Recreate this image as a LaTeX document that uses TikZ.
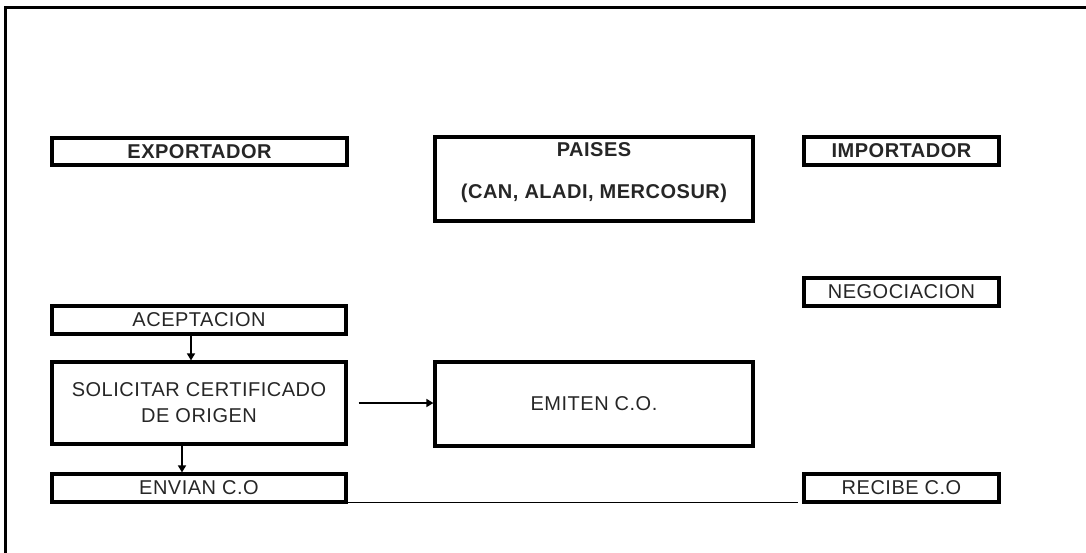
\documentclass[tikz,border=0pt]{standalone}
\usepackage{fontspec}
\setmainfont[LetterSpace=2.5]{Liberation Sans}
\usetikzlibrary{arrows.meta}
\begin{document}
\begin{tikzpicture}[x=1pt,y=-1pt,
  box/.style={draw=black, line width=3.2pt, rectangle, inner sep=0pt, minimum height=27pt,
    font=\fontsize{20}{24}\selectfont, text=black!85, align=center},
  bbox/.style={box, font=\fontsize{20}{24}\selectfont\bfseries},
  btxt/.style={inner sep=0pt, font=\fontsize{20}{24}\selectfont\bfseries, text=black!85},
  arr/.style={line width=1.6pt, -{Triangle[length=7pt,width=8pt]}},
  plain/.style={line width=1.6pt}]
\useasboundingbox (0,0) rectangle (1086,552);
% frame
\draw[line width=3pt] (5,560) -- (5,7) -- (1095,7);
% nodes
\node[bbox, minimum width=295pt] (exp) at (199.5,151.5) {EXPORTADOR};
\node[bbox, minimum width=318pt, minimum height=84pt] (pai) at (594,179) {};
\node[btxt] (pait1) at (594,150) {PAISES};
\node[btxt] (pait2) at (594,193) {(CAN, ALADI, MERCOSUR)};
\node[bbox, minimum width=195pt, minimum height=28pt] (imp) at (901.5,151) {IMPORTADOR};
\node[box, minimum width=195pt, minimum height=28pt] (neg) at (901.5,292) {NEGOCIACION};
\node[box, minimum width=294pt, minimum height=28pt] (ace) at (199,320) {ACEPTACION};
\node[box, minimum width=294pt, minimum height=82pt] (sol) at (199,403)
  {SOLICITAR CERTIFICADO\\[2pt]DE ORIGEN};
\node[box, minimum width=318pt, minimum height=84pt] (emi) at (594,404) {EMITEN C.O.};
\node[box, minimum width=294pt, minimum height=28pt] (env) at (199,488) {ENVIAN C.O};
\node[box, minimum width=195pt, minimum height=28pt] (rec) at (901.5,488) {RECIBE C.O};
% connectors
\draw[arr] ([xshift=-8pt]ace.south) -- ([xshift=-8pt]sol.north);
\draw[arr] ([xshift=-17pt]sol.south) -- ([xshift=-17pt]env.north);
\draw[arr] ([xshift=11pt]sol.east) -- (sol.east -| emi.west);
\draw[plain] ([yshift=1pt]env.south east) -- ([xshift=-4pt,yshift=1pt]rec.south west);
\end{tikzpicture}
\end{document}
